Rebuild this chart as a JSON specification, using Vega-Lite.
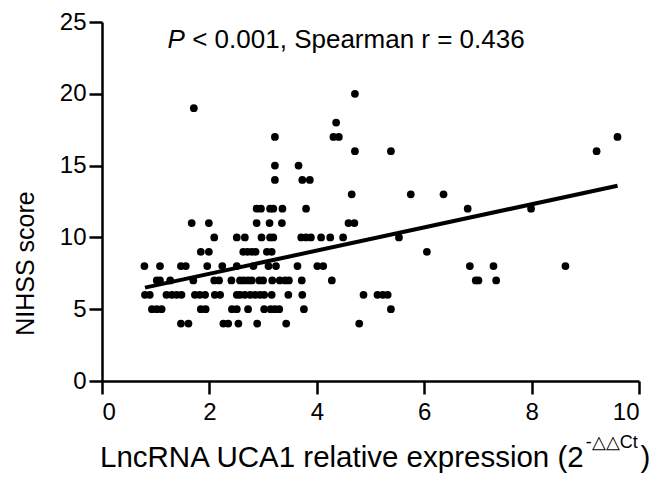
{
  "$schema": "https://vega.github.io/schema/vega-lite/v6.json",
  "width": 537,
  "height": 359,
  "autosize": {"type": "none"},
  "padding": {"left": 102, "top": 22, "right": 28, "bottom": 100},
  "background": "white",
  "config": {
    "view": {"stroke": null},
    "font": "Liberation Sans",
    "axis": {
      "domainColor": "black", "domainWidth": 2.5, "tickColor": "black", "tickWidth": 2.5,
      "tickSize": 13, "labelFontSize": 24, "labelColor": "black", "grid": false,
      "labelFont": "Liberation Sans", "titleFont": "Liberation Sans", "titleColor": "black",
      "titleFontWeight": "normal", "titleFontSize": 25
    }
  },
  "datasets": {
    "pts": [
      {"x":4.71,"y":20},{"x":1.71,"y":19},{"x":4.36,"y":18},
      {"x":3.22,"y":17},{"x":4.31,"y":17},{"x":4.41,"y":17},{"x":9.60,"y":17},
      {"x":4.71,"y":16},{"x":5.38,"y":16},{"x":9.21,"y":16},
      {"x":3.22,"y":15},{"x":3.66,"y":15},
      {"x":3.22,"y":14},{"x":3.73,"y":14},{"x":3.87,"y":14},
      {"x":4.65,"y":13},{"x":5.75,"y":13},{"x":6.36,"y":13},
      {"x":2.88,"y":12},{"x":2.96,"y":12},{"x":3.13,"y":12},{"x":3.19,"y":12},{"x":3.36,"y":12},{"x":3.80,"y":12},{"x":6.81,"y":12},{"x":7.99,"y":12},
      {"x":1.67,"y":11},{"x":1.99,"y":11},{"x":2.88,"y":11},{"x":3.12,"y":11},{"x":3.35,"y":11},{"x":4.59,"y":11},{"x":4.70,"y":11},
      {"x":2.09,"y":10},{"x":2.51,"y":10},{"x":2.66,"y":10},{"x":2.97,"y":10},{"x":3.13,"y":10},{"x":3.19,"y":10},{"x":3.71,"y":10},{"x":3.80,"y":10},{"x":3.89,"y":10},{"x":4.08,"y":10},{"x":4.25,"y":10},{"x":4.49,"y":10},{"x":5.53,"y":10},
      {"x":1.84,"y":9},{"x":1.99,"y":9},{"x":2.63,"y":9},{"x":2.71,"y":9},{"x":2.79,"y":9},{"x":2.86,"y":9},{"x":3.07,"y":9},{"x":3.16,"y":9},{"x":6.05,"y":9},
      {"x":0.79,"y":8},{"x":1.08,"y":8},{"x":1.47,"y":8},{"x":1.56,"y":8},{"x":1.96,"y":8},{"x":2.24,"y":8},{"x":2.51,"y":8},{"x":2.82,"y":8},{"x":3.10,"y":8},{"x":3.24,"y":8},{"x":3.64,"y":8},{"x":4.01,"y":8},{"x":4.12,"y":8},{"x":6.85,"y":8},{"x":7.29,"y":8},{"x":8.63,"y":8},
      {"x":1.02,"y":7},{"x":1.08,"y":7},{"x":1.27,"y":7},{"x":1.70,"y":7},{"x":2.09,"y":7},{"x":2.18,"y":7},{"x":2.41,"y":7},{"x":2.57,"y":7},{"x":2.64,"y":7},{"x":2.72,"y":7},{"x":2.79,"y":7},{"x":2.93,"y":7},{"x":3.00,"y":7},{"x":3.17,"y":7},{"x":3.31,"y":7},{"x":3.41,"y":7},{"x":3.48,"y":7},{"x":3.72,"y":7},{"x":4.28,"y":7},{"x":6.96,"y":7},{"x":7.01,"y":7},{"x":7.34,"y":7},
      {"x":0.80,"y":6},{"x":0.89,"y":6},{"x":1.20,"y":6},{"x":1.30,"y":6},{"x":1.39,"y":6},{"x":1.48,"y":6},{"x":1.73,"y":6},{"x":1.82,"y":6},{"x":1.92,"y":6},{"x":2.10,"y":6},{"x":2.20,"y":6},{"x":2.51,"y":6},{"x":2.57,"y":6},{"x":2.66,"y":6},{"x":2.76,"y":6},{"x":2.85,"y":6},{"x":2.94,"y":6},{"x":3.02,"y":6},{"x":3.16,"y":6},{"x":3.47,"y":6},{"x":3.73,"y":6},{"x":4.87,"y":6},{"x":5.13,"y":6},{"x":5.23,"y":6},{"x":5.32,"y":6},
      {"x":0.93,"y":5},{"x":1.02,"y":5},{"x":1.11,"y":5},{"x":1.84,"y":5},{"x":1.93,"y":5},{"x":2.42,"y":5},{"x":2.51,"y":5},{"x":2.72,"y":5},{"x":3.02,"y":5},{"x":3.14,"y":5},{"x":3.22,"y":5},{"x":3.30,"y":5},{"x":3.76,"y":5},{"x":5.38,"y":5},
      {"x":1.47,"y":4},{"x":1.61,"y":4},{"x":2.26,"y":4},{"x":2.35,"y":4},{"x":2.54,"y":4},{"x":2.89,"y":4},{"x":3.43,"y":4},{"x":4.79,"y":4}
    ],
    "fit": [{"x": 0.8, "y": 6.5}, {"x": 9.6, "y": 13.6}],
    "one": [{}]
  },
  "layer": [
    {
      "data": {"name": "pts"},
      "mark": {"type": "circle", "size": 60, "color": "black", "opacity": 1},
      "encoding": {
        "x": {"field": "x", "type": "quantitative",
              "scale": {"domain": [0, 10], "nice": false, "zero": false},
              "axis": {"values": [0, 2, 4, 6, 8, 10], "title": null, "labelPadding": 6}},
        "y": {"field": "y", "type": "quantitative",
              "scale": {"domain": [0, 25], "nice": false, "zero": false},
              "axis": {"values": [0, 5, 10, 15, 20, 25], "title": "NIHSS score", "labelPadding": 3,
                       "titleX": -77, "titleY": 241, "titleBaseline": "middle", "titleAlign": "center", "titleAngle": -90}}
      }
    },
    {
      "data": {"name": "fit"},
      "mark": {"type": "line", "color": "black", "strokeWidth": 4},
      "encoding": {
        "x": {"field": "x", "type": "quantitative"},
        "y": {"field": "y", "type": "quantitative"}
      }
    },
    {
      "data": {"name": "one"},
      "mark": {"type": "text", "fontSize": 26, "fontStyle": "italic", "align": "left", "baseline": "alphabetic", "color": "black"},
      "encoding": {"x": {"datum": 1.22}, "y": {"datum": 23.2}, "text": {"value": "P"}}
    },
    {
      "data": {"name": "one"},
      "mark": {"type": "text", "fontSize": 26, "align": "left", "baseline": "alphabetic", "color": "black"},
      "encoding": {"x": {"datum": 1.68}, "y": {"datum": 23.2}, "text": {"value": "< 0.001, Spearman r = 0.436"}}
    },
    {
      "data": {"name": "one"},
      "mark": {"type": "text", "fontSize": 29.5, "align": "right", "baseline": "alphabetic", "color": "black"},
      "encoding": {"x": {"datum": 8.97}, "y": {"datum": -6.0}, "text": {"value": "LncRNA UCA1 relative expression (2"}}
    },
    {
      "data": {"name": "one"},
      "mark": {"type": "text", "fontSize": 18, "align": "left", "baseline": "alphabetic", "color": "black"},
      "encoding": {"x": {"datum": 9.01}, "y": {"datum": -4.7}, "text": {"value": "-△△Ct"}}
    },
    {
      "data": {"name": "one"},
      "mark": {"type": "text", "fontSize": 29.5, "align": "left", "baseline": "alphabetic", "color": "black"},
      "encoding": {"x": {"datum": 10.03}, "y": {"datum": -6.0}, "text": {"value": ")"}}
    }
  ]
}
